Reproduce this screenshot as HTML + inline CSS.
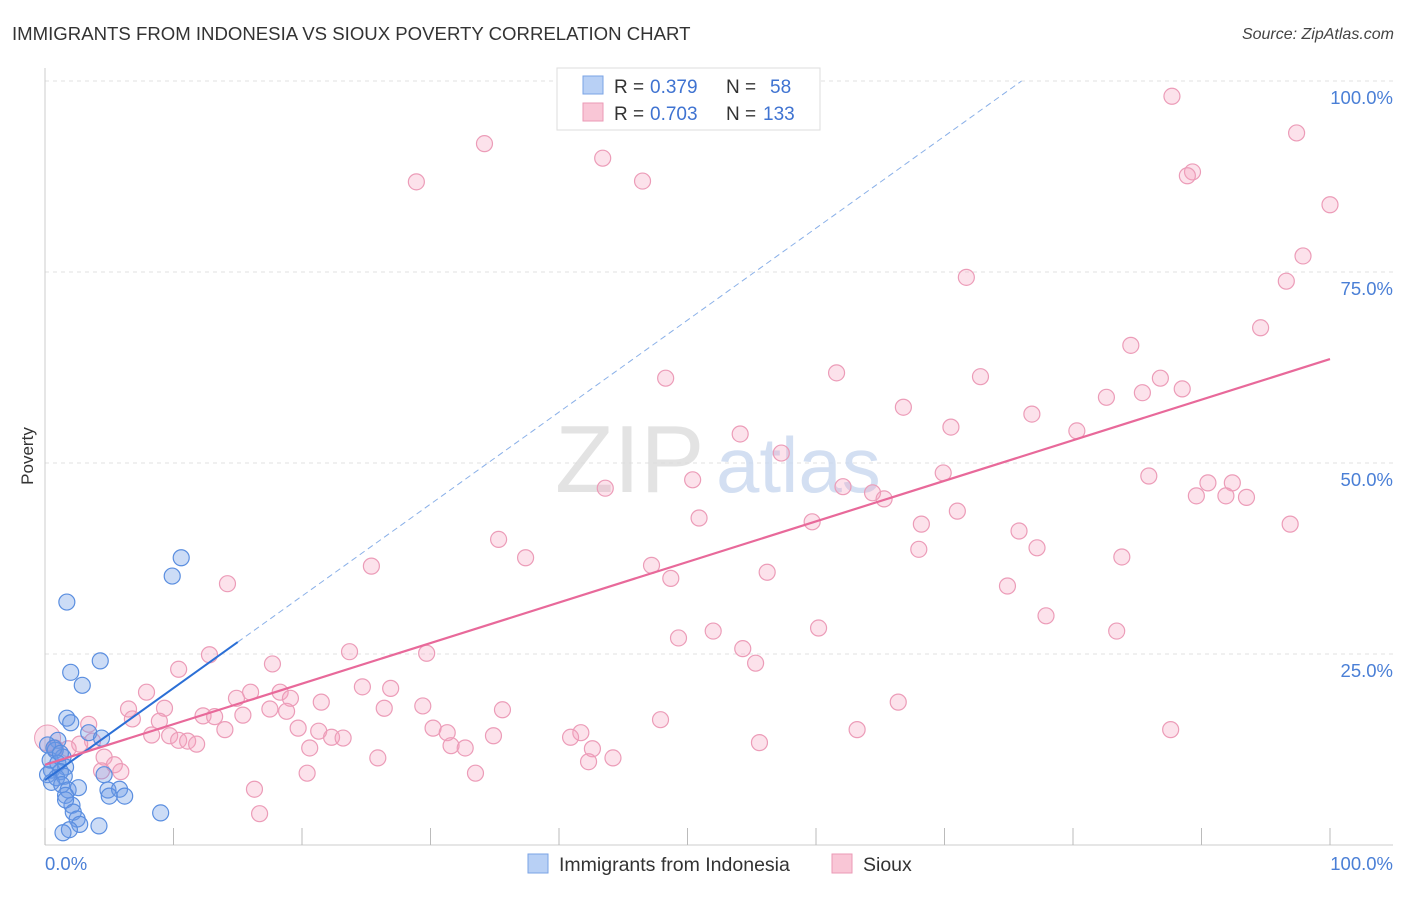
<!DOCTYPE html>
<html><head><meta charset="utf-8"><style>
body{margin:0;background:#fff;font-family:"Liberation Sans",sans-serif;}
svg text{font-family:"Liberation Sans",sans-serif;}
</style></head><body>
<svg id="chart" width="1406" height="892" xmlns="http://www.w3.org/2000/svg">
<text x="12" y="40" font-size="18.6" fill="#333">IMMIGRANTS FROM INDONESIA VS SIOUX POVERTY CORRELATION CHART</text>
<text x="1394" y="39" font-size="16" fill="#444" font-style="italic" text-anchor="end">Source: ZipAtlas.com</text>
<g id="grid"></g>
<g><text x="555" y="492" font-size="96" fill="#ddd" font-family="Liberation Serif" opacity="0.8">ZIP</text><text x="716" y="492" font-size="78" fill="#c9d8ef" opacity="0.8">atlas</text></g>
<g id="pts"></g>
<g id="lines"></g>
<text transform="translate(33,456) rotate(-90)" font-size="17" fill="#333" text-anchor="middle">Poverty</text>
<text x="45" y="870" font-size="18.5" fill="#4a7fd6">0.0%</text>
<text x="1393" y="870" font-size="18.5" fill="#4a7fd6" text-anchor="end">100.0%</text>
<g>
<rect x="557" y="68" width="263" height="62" fill="#fff" stroke="#ddd"/>
<rect x="583" y="76" width="20" height="18" fill="#b8d0f5" stroke="#7aa3e5"/>
<rect x="583" y="103" width="20" height="18" fill="#f9c6d6" stroke="#eb9ab6"/>
<text x="614" y="93" font-size="19" fill="#333">R =</text>
<text x="650" y="93" font-size="19" fill="#3f73d1">0.379</text>
<text x="726" y="93" font-size="19" fill="#333">N =</text>
<text x="770" y="93" font-size="19" fill="#3f73d1">58</text>
<text x="614" y="120" font-size="19" fill="#333">R =</text>
<text x="650" y="120" font-size="19" fill="#3f73d1">0.703</text>
<text x="726" y="120" font-size="19" fill="#333">N =</text>
<text x="763" y="120" font-size="19" fill="#3f73d1">133</text>
</g>
<g>
<rect x="528" y="854" width="20" height="19" fill="#b8d0f5" stroke="#7aa3e5"/>
<text x="559" y="871" font-size="19.5" fill="#333">Immigrants from Indonesia</text>
<rect x="832" y="854" width="20" height="19" fill="#f9c6d6" stroke="#eb9ab6"/>
<text x="863" y="871" font-size="19.5" fill="#333">Sioux</text>
</g>
</svg>
<script>
const yTicks=[25,50,75,100];
const yTickLabels=["25.0%","50.0%","75.0%","100.0%"];
const xTicks=[0,10,20,30,40,50,60,70,80,90,100];
const siouxX=[87.7,34.2,43.4,28.9,46.5,97.4,89.3,88.9,100,97.9,71.7,96.6,94.6,84.5,61.6,72.8,48.3,86.8,88.5,85.4,82.6,66.8,76.8,70.5,80.3,54.1,57.3,69.9,85.9,50.4,90.5,92.4,43.6,62.1,64.4,65.3,89.6,91.9,93.5,71.0,50.9,59.7,68.2,96.9,75.8,35.3,68.0,77.2,37.4,83.8,25.4,47.2,14.2,48.7,56.2,74.9,77.9,52.0,60.2,83.4,49.3,54.3,23.7,29.7,12.8,55.3,17.7,10.4,24.7,26.9,7.9,16,18.3,14.9,19.1,21.5,66.4,6.5,9.3,26.4,29.4,35.6,17.5,18.8,15.4,12.3,13.2,6.8,8.9,47.9,3.4,14.0,19.7,30.2,21.3,63.2,87.6,31.3,41.7,8.3,9.7,10.4,11.1,11.8,22.3,23.2,34.9,40.9,3.7,2.7,31.6,32.7,20.6,55.6,42.6,1.8,4.6,25.9,42.3,44.2,5.4,4.4,5.9,20.4,33.5,16.3,16.7,0.8];
const siouxY=[98.0,91.8,89.9,86.8,86.9,93.2,88.1,87.6,83.8,77.1,74.3,73.8,67.7,65.4,61.8,61.3,61.1,61.1,59.7,59.2,58.6,57.3,56.4,54.7,54.2,53.8,51.3,48.7,48.3,47.8,47.4,47.4,46.7,46.9,46.1,45.3,45.7,45.7,45.5,43.7,42.8,42.3,42.0,42.0,41.1,40.0,38.7,38.9,37.6,37.7,36.5,36.6,34.2,34.9,35.7,33.9,30.0,28.0,28.4,28.0,27.1,25.7,25.3,25.1,24.9,23.8,23.7,23.0,20.7,20.5,20.0,20,20.0,19.2,19.2,18.7,18.7,17.8,17.9,17.9,18.2,17.7,17.8,17.5,17.0,16.9,16.8,16.5,16.2,16.4,15.8,15.1,15.3,15.3,14.9,15.1,15.1,14.7,14.7,14.4,14.3,13.7,13.6,13.2,14.1,14.0,14.3,14.1,13.6,13.2,13.0,12.7,12.7,13.4,12.6,12.6,11.5,11.4,10.9,11.4,10.5,9.7,9.6,9.4,9.4,7.3,4.1,12.7];
const indoX=[10.6,9.9,1.7,4.3,2.0,2.9,1.7,2.0,3.4,4.4,1.0,0.2,0.8,1.4,0.4,1.0,1.6,0.5,1.2,0.2,0.9,1.5,0.5,4.6,1.3,1.8,2.6,4.9,1.6,5.8,6.2,5.0,2.1,1.6,2.2,2.5,2.7,4.2,1.9,1.4,9.0,0.7,1.2];
const indoY=[37.6,35.2,31.8,24.1,22.6,20.9,16.6,16.0,14.7,14.0,13.7,13.1,12.4,11.5,11.1,10.7,10.2,9.8,9.6,9.2,8.8,9.0,8.2,9.2,7.9,7.2,7.5,7.2,6.5,7.3,6.4,6.4,5.2,5.9,4.3,3.4,2.7,2.5,2.0,1.6,4.2,12.7,12.0];
const indoTrend=[8.5,128.9];
const siouxTrend=[10.5,63.6];
const X=v=>45+v*12.85, Y=v=>845-v*7.64;
const NS="http://www.w3.org/2000/svg";
function mk(t,a,p){const e=document.createElementNS(NS,t);for(const k in a)e.setAttribute(k,a[k]);p.appendChild(e);return e;}
const grid=document.getElementById('grid');
yTicks.forEach((t,i)=>{const l=mk('line',{x1:45,x2:1393,y1:Y(t),y2:Y(t),stroke:'#e2e2e2','stroke-dasharray':'4,4'},grid);


const tx=mk('text',{x:1393,y:Y(t)+23,'font-size':18.5,fill:'#4a7fd6','text-anchor':'end'},grid);tx.textContent=yTickLabels[i];

});
const ax=mk('line',{x1:45,x2:45,y1:68,y2:845,stroke:'#ccc'},grid);


const bx=mk('line',{x1:45,x2:1393,y1:845,y2:845,stroke:'#ccc'},grid);


xTicks.forEach(t=>{const l=mk('line',{x1:X(t),x2:X(t),y1:828,y2:845,stroke:'#bbb'},grid);

});
const pts=document.getElementById('pts');
siouxX.forEach((x,i)=>{const c=mk('circle',{cx:X(x),cy:Y(siouxY[i]),r:8,fill:'rgba(244,160,190,0.3)',stroke:'#ec9cb8','stroke-width':1.2},pts);

});
const big=mk('circle',{cx:X(0.2),cy:Y(14),r:13,fill:'rgba(244,160,190,0.3)',stroke:'#ec9cb8'},pts);


indoX.forEach((x,i)=>{const c=mk('circle',{cx:X(x),cy:Y(indoY[i]),r:8,fill:'rgba(110,155,230,0.35)',stroke:'#5a8ee0','stroke-width':1.2},pts);

});
const lines=document.getElementById('lines');
const xe=(100-indoTrend[0])/(indoTrend[1]-indoTrend[0])*100;
const d=mk('line',{x1:X(15),y1:Y(indoTrend[0]+(indoTrend[1]-indoTrend[0])*0.15),x2:X(xe),y2:Y(100),stroke:'#8ab0e8','stroke-dasharray':'6,4','stroke-width':1},lines);


const s=mk('line',{x1:X(0),y1:Y(indoTrend[0]),x2:X(15),y2:Y(indoTrend[0]+(indoTrend[1]-indoTrend[0])*0.15),stroke:'#2b6fd6','stroke-width':2},lines);


const p=mk('line',{x1:X(0),y1:Y(siouxTrend[0]),x2:X(100),y2:Y(siouxTrend[1]),stroke:'#e8699a','stroke-width':2.2},lines);


</script>
</body></html>
